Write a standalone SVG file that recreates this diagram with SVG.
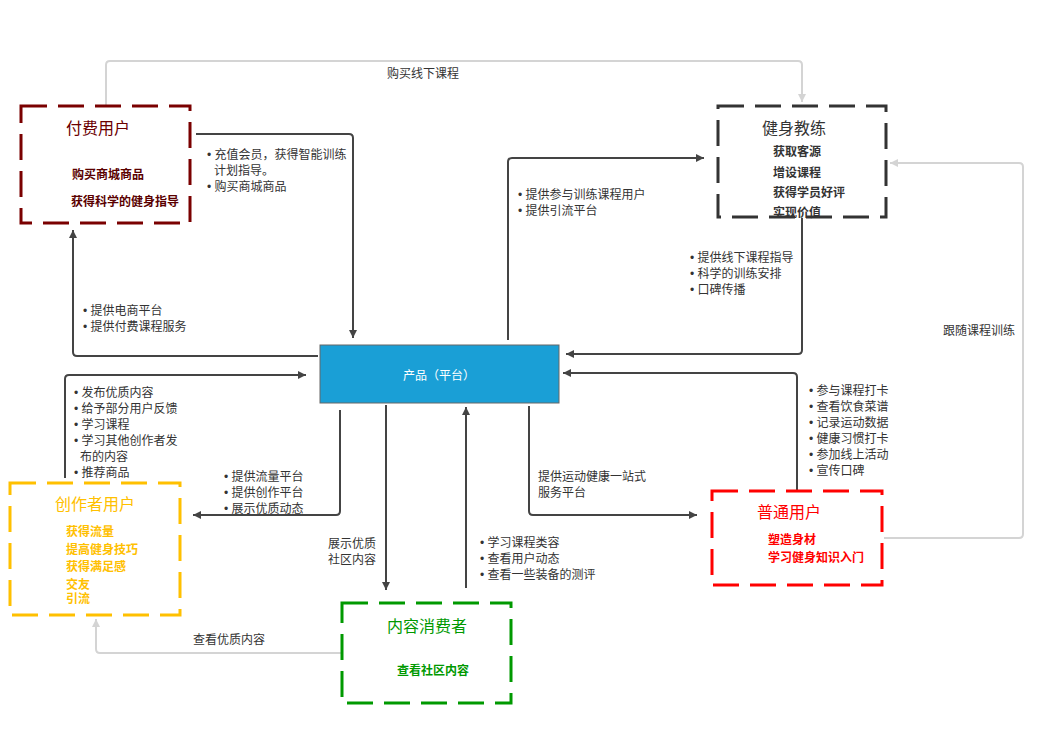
<svg xmlns="http://www.w3.org/2000/svg" width="1050" height="729" viewBox="0 0 1050 729">
<defs>
<style>
text{font-family:"Noto Sans CJK SC","Liberation Sans",sans-serif;font-size:12px;fill:#333}
.b{font-family:"Liberation Sans",sans-serif}
.box{fill:#fff;stroke-width:3;stroke-dasharray:26 11}
.title{font-size:16px}
.item{font-weight:bold}
.conn{fill:none;stroke:#444;stroke-width:2}
.gray{fill:none;stroke:#d4d4d4;stroke-width:2}
</style>
<marker id="ad" markerWidth="10" markerHeight="10" refX="9" refY="5" orient="auto" markerUnits="userSpaceOnUse"><path d="M1,1 L9,5 L1,9 z" fill="#444"/></marker>
<marker id="ag" markerWidth="10" markerHeight="10" refX="9" refY="5" orient="auto" markerUnits="userSpaceOnUse"><path d="M1,1 L9,5 L1,9 z" fill="#d4d4d4"/></marker>
</defs>
<rect width="1050" height="729" fill="#fff"/>
<g id="connectors">
<path class="gray" d="M106,105 V65 Q106,61 110,61 H798 Q802,61 802,65 V102" marker-end="url(#ag)"/>
<path class="gray" d="M884,538 H1019 Q1023,538 1023,534 V167 Q1023,163 1019,163 H890" marker-end="url(#ag)"/>
<path class="gray" d="M342,653 H100 Q96,653 96,649 V619" marker-end="url(#ag)"/>
<path class="conn" d="M196,134 H349 Q353,134 353,138 V338" marker-end="url(#ad)"/>
<path class="conn" d="M318,356 H77 Q73,356 73,352 V230" marker-end="url(#ad)"/>
<path class="conn" d="M65,478 V379 Q65,375 69,375 H306" marker-end="url(#ad)"/>
<path class="conn" d="M340,410 V511 Q340,515 336,515 H193" marker-end="url(#ad)"/>
<path class="conn" d="M386,405 V590" marker-end="url(#ad)"/>
<path class="conn" d="M466,588 V407" marker-end="url(#ad)"/>
<path class="conn" d="M508,340 V162 Q508,158 512,158 H704" marker-end="url(#ad)"/>
<path class="conn" d="M802,218 V350 Q802,354 798,354 H566" marker-end="url(#ad)"/>
<path class="conn" d="M797,490 V377 Q797,373 793,373 H563" marker-end="url(#ad)"/>
<path class="conn" d="M529,406 V511 Q529,515 533,515 H697" marker-end="url(#ad)"/>
<text x="423" y="78" text-anchor="middle">购买线下课程</text>
<text x="943" y="335">跟随课程训练</text>
<text x="193" y="644">查看优质内容</text>
<text x="207" y="159"><tspan class="b">• </tspan>充值会员，获得智能训练</text>
<text x="214" y="175">计划指导。</text>
<text x="207" y="191"><tspan class="b">• </tspan>购买商城商品</text>
<text x="83" y="315"><tspan class="b">• </tspan>提供电商平台</text>
<text x="83" y="331"><tspan class="b">• </tspan>提供付费课程服务</text>
<text x="74" y="397"><tspan class="b">• </tspan>发布优质内容</text>
<text x="74" y="413"><tspan class="b">• </tspan>给予部分用户反馈</text>
<text x="74" y="429"><tspan class="b">• </tspan>学习课程</text>
<text x="74" y="445"><tspan class="b">• </tspan>学习其他创作者发</text>
<text x="80" y="461">布的内容</text>
<text x="74" y="477"><tspan class="b">• </tspan>推荐商品</text>
<text x="224" y="481"><tspan class="b">• </tspan>提供流量平台</text>
<text x="224" y="497"><tspan class="b">• </tspan>提供创作平台</text>
<text x="224" y="513"><tspan class="b">• </tspan>展示优质动态</text>
<text x="328" y="548">展示优质</text>
<text x="328" y="564">社区内容</text>
<text x="480" y="547"><tspan class="b">• </tspan>学习课程类容</text>
<text x="480" y="563"><tspan class="b">• </tspan>查看用户动态</text>
<text x="480" y="579"><tspan class="b">• </tspan>查看一些装备的测评</text>
<text x="518" y="199"><tspan class="b">• </tspan>提供参与训练课程用户</text>
<text x="518" y="215"><tspan class="b">• </tspan>提供引流平台</text>
<text x="690" y="262"><tspan class="b">• </tspan>提供线下课程指导</text>
<text x="690" y="278"><tspan class="b">• </tspan>科学的训练安排</text>
<text x="690" y="294"><tspan class="b">• </tspan>口碑传播</text>
<text x="809" y="395"><tspan class="b">• </tspan>参与课程打卡</text>
<text x="809" y="411"><tspan class="b">• </tspan>查看饮食菜谱</text>
<text x="809" y="427"><tspan class="b">• </tspan>记录运动数据</text>
<text x="809" y="443"><tspan class="b">• </tspan>健康习惯打卡</text>
<text x="809" y="459"><tspan class="b">• </tspan>参加线上活动</text>
<text x="809" y="475"><tspan class="b">• </tspan>宣传口碑</text>
<text x="538" y="481">提供运动健康一站式</text>
<text x="538" y="497">服务平台</text>
</g>
<g id="product">
<rect x="320" y="345" width="239" height="58" fill="#1a9fd6" stroke="#666" stroke-width="1"/>
<text x="439" y="380" text-anchor="middle" style="fill:#fff">产品（平台）</text>
</g>
<g id="paid-user">
<rect class="box" x="21" y="106" width="169" height="117" stroke="#7a0000"/>
<text class="title" x="98" y="134" text-anchor="middle" style="fill:#6b0000">付费用户</text>
<text class="item" x="72" y="179" style="fill:#5a0000">购买商城商品</text>
<text class="item" x="71" y="206" style="fill:#5a0000">获得科学的健身指导</text>
</g>
<g id="coach">
<rect class="box" x="718" y="106" width="168" height="111" stroke="#333"/>
<text class="title" x="794" y="134" text-anchor="middle">健身教练</text>
<text class="item" x="773" y="156">获取客源</text>
<text class="item" x="773" y="177">增设课程</text>
<text class="item" x="773" y="197">获得学员好评</text>
<text class="item" x="773" y="217">实现价值</text>
</g>
<g id="creator">
<rect class="box" x="10" y="483" width="170" height="132" stroke="#ffc000"/>
<text class="title" x="95" y="510" text-anchor="middle" style="fill:#ffc000">创作者用户</text>
<text class="item" x="66" y="536" style="fill:#ffc000">获得流量</text>
<text class="item" x="66" y="554" style="fill:#ffc000">提高健身技巧</text>
<text class="item" x="66" y="571" style="fill:#ffc000">获得满足感</text>
<text class="item" x="66" y="589" style="fill:#ffc000">交友</text>
<text class="item" x="66" y="603" style="fill:#ffc000">引流</text>
</g>
<g id="normal-user">
<rect class="box" x="712" y="491" width="170" height="94" stroke="#ff0000"/>
<text class="title" x="789" y="518" text-anchor="middle" style="fill:#ff0000">普通用户</text>
<text class="item" x="768" y="544" style="fill:#ff0000">塑造身材</text>
<text class="item" x="768" y="562" style="fill:#ff0000">学习健身知识入门</text>
</g>
<g id="consumer">
<rect class="box" x="342" y="603" width="169" height="100" stroke="#009900"/>
<text class="title" x="427" y="632" text-anchor="middle" style="fill:#009900">内容消费者</text>
<text class="item" x="433" y="675" text-anchor="middle" style="fill:#009900">查看社区内容</text>
</g>
</svg>
